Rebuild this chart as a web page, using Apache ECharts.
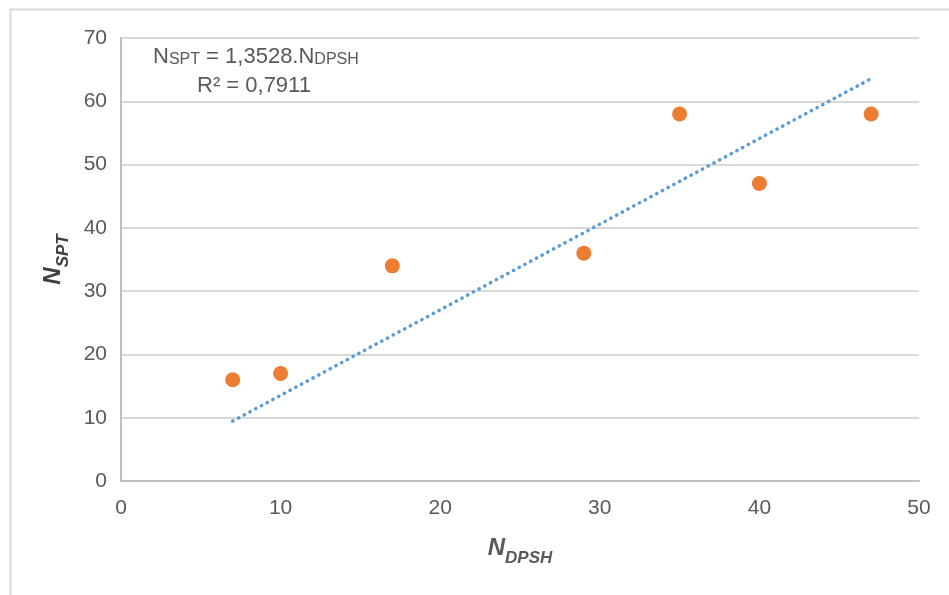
<!DOCTYPE html>
<html>
<head>
<meta charset="utf-8">
<script src="https://cdn.jsdelivr.net/npm/echarts@6/dist/echarts.min.js"></script>
<style>
html,body{margin:0;padding:0;background:#fff;}
#chart{width:949px;height:595px;}
</style>
</head>
<body>
<div id="chart"></div>
<script>
// Data
var nDPSH = [7, 10, 17, 29, 35, 40, 47];
var nSPT  = [16, 17, 34, 36, 58, 47, 58];
var trendX = [7, 47];
var trendY = [9.47, 63.58];
var xTicks = [0, 10, 20, 30, 40, 50];
var yTicks = [0, 10, 20, 30, 40, 50, 60, 70];

var points = nDPSH.map(function (x, i) { return [x, nSPT[i]]; });
var trend = trendX.map(function (x, i) { return [x, trendY[i]]; });

var chart = echarts.init(document.getElementById('chart'), null, {renderer: 'canvas'});
var FONT = 'Liberation Sans';
var TICK = '#595959';

chart.setOption({
  animation: false,
  backgroundColor: '#ffffff',
  textStyle: {fontFamily: FONT},
  grid: {left: 121, top: 38, right: 30, bottom: 114, containLabel: false},
  xAxis: {
    type: 'value', min: xTicks[0], max: xTicks[xTicks.length - 1], interval: 10,
    axisLine: {show: true, lineStyle: {color: '#bfbfbf', width: 2}},
    axisTick: {show: false},
    splitLine: {show: false},
    axisLabel: {color: TICK, fontSize: 21, fontFamily: FONT, margin: 17},
    name: '{b|N}{s|DPSH}',
    nameLocation: 'middle',
    nameGap: 51,
    nameTextStyle: {
      rich: {
        b: {fontSize: 24, fontWeight: 'bold', fontStyle: 'italic', color: '#595959', fontFamily: FONT, verticalAlign: 'bottom', lineHeight: 28},
        s: {fontSize: 17, fontWeight: 'bold', fontStyle: 'italic', color: '#595959', fontFamily: FONT, verticalAlign: 'bottom', lineHeight: 28, padding: [0, 0, -7, 0]}
      }
    }
  },
  yAxis: {
    type: 'value', min: yTicks[0], max: yTicks[yTicks.length - 1], interval: 10,
    axisLine: {show: true, lineStyle: {color: '#bfbfbf', width: 2}},
    axisTick: {show: false},
    splitLine: {show: true, lineStyle: {color: '#d9d9d9', width: 2}},
    axisLabel: {color: TICK, fontSize: 21, fontFamily: FONT, margin: 14},
    name: '{b|N}{s|SPT}',
    nameLocation: 'middle',
    nameRotate: 90,
    nameGap: 56,
    nameTextStyle: {
      rich: {
        b: {fontSize: 24, fontWeight: 'bold', fontStyle: 'italic', color: '#404040', fontFamily: FONT, verticalAlign: 'bottom', lineHeight: 28},
        s: {fontSize: 17, fontWeight: 'bold', fontStyle: 'italic', color: '#404040', fontFamily: FONT, verticalAlign: 'bottom', lineHeight: 28, padding: [0, 0, -7, 0]}
      }
    }
  },
  series: [
    {
      type: 'line',
      data: trend,
      showSymbol: false,
      symbol: 'none',
      lineStyle: {color: '#5B9BD5', width: 3.5, type: [0.3, 6.2], cap: 'round'},
      z: 2
    },
    {
      type: 'scatter',
      data: points,
      symbol: 'circle',
      symbolSize: 15,
      itemStyle: {color: '#ED7D31', opacity: 1},
      z: 3
    }
  ],
  graphic: [
    {
      type: 'rect',
      left: 8, top: 7,
      shape: {x: 0, y: 0, width: 1200, height: 800},
      style: {fill: 'none', stroke: '#d9d9d9', lineWidth: 2},
      silent: true, z: -10
    },
    {
      type: 'text',
      left: 153, top: 46,
      style: {
        text: '{n|N}{s|SPT}{n| = 1,3528.N}{s|DPSH}',
        rich: {
          n: {fontSize: 22, fill: '#595959', fontFamily: FONT, verticalAlign: 'bottom', lineHeight: 26},
          s: {fontSize: 16, fill: '#595959', fontFamily: FONT, verticalAlign: 'bottom', lineHeight: 26}
        }
      },
      z: 10
    },
    {
      type: 'text',
      left: 197, top: 75,
      style: {text: 'R² = 0,7911', fontSize: 22, fill: '#595959', fontFamily: FONT},
      z: 10
    }
  ]
});
</script>
</body>
</html>
